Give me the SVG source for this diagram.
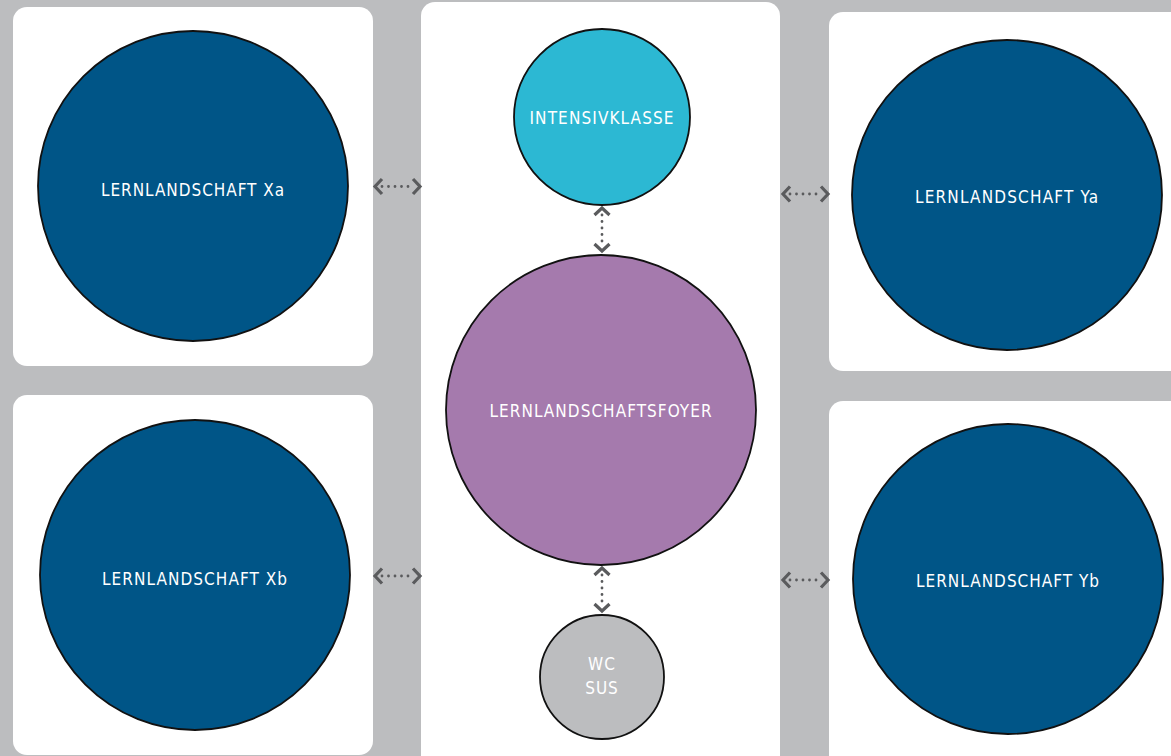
<svg xmlns="http://www.w3.org/2000/svg" width="1171" height="756" viewBox="0 0 1171 756">
<defs>
<style>
.panel{fill:#ffffff}
.c{stroke:#111111;stroke-width:1.8}
.blue{fill:#005587}
.cyan{fill:#2cb8d3}
.purple{fill:#a57aad}
.grey{fill:#bcbdbf}
.t{font-family:"DejaVu Sans Condensed","Liberation Sans Narrow",Roboto,sans-serif;font-size:17px;fill:#ffffff;text-anchor:middle;letter-spacing:1px}
.chev{fill:none;stroke:#5a5b5d;stroke-width:3.2;stroke-linecap:butt;stroke-linejoin:miter}
.dots{fill:none;stroke:#5a5b5d;stroke-width:2.8;stroke-linecap:round;stroke-dasharray:0 6.5}
</style>
</defs>
<rect x="0" y="0" width="1171" height="756" fill="#bcbdbf"/>
<g id="panels">
<rect class="panel" x="13" y="7" width="360" height="359" rx="14"/>
<rect class="panel" x="13" y="395" width="360" height="360" rx="14"/>
<rect class="panel" x="421" y="2" width="359" height="770" rx="14"/>
<rect class="panel" x="829" y="12" width="360" height="359" rx="14"/>
<rect class="panel" x="829" y="401" width="360" height="370" rx="14"/>
</g>
<g id="connectors">
<g id="conn-xa">
<path class="dots" d="M382,186.5 L413,186.5"/>
<path class="chev" d="M382,179 L375,186.5 L382,194"/>
<path class="chev" d="M413,179 L420,186.5 L413,194"/>
</g>
<g id="conn-xb">
<path class="dots" d="M382,576 L413,576"/>
<path class="chev" d="M382,568.5 L375,576 L382,583.5"/>
<path class="chev" d="M413,568.5 L420,576 L413,583.5"/>
</g>
<g id="conn-ya">
<path class="dots" d="M790,194 L821,194"/>
<path class="chev" d="M790,186.5 L783,194 L790,201.5"/>
<path class="chev" d="M821,186.5 L828,194 L821,201.5"/>
</g>
<g id="conn-yb">
<path class="dots" d="M790,580 L821,580"/>
<path class="chev" d="M790,572.5 L783,580 L790,587.5"/>
<path class="chev" d="M821,572.5 L828,580 L821,587.5"/>
</g>
<g id="conn-ik">
<path class="dots" d="M602,215 L602,245"/>
<path class="chev" d="M594.5,215 L602,208 L609.5,215"/>
<path class="chev" d="M594.5,244 L602,251 L609.5,244"/>
</g>
<g id="conn-wc">
<path class="dots" d="M602,575 L602,605"/>
<path class="chev" d="M594.5,575 L602,568 L609.5,575"/>
<path class="chev" d="M594.5,604 L602,611 L609.5,604"/>
</g>
</g>
<g id="node-xa">
<circle class="c blue" cx="193" cy="186" r="155"/>
<text class="t" x="193" y="196" textLength="184" lengthAdjust="spacing">LERNLANDSCHAFT Xa</text>
</g>
<g id="node-xb">
<circle class="c blue" cx="195" cy="575" r="155"/>
<text class="t" x="195" y="585" textLength="186" lengthAdjust="spacing">LERNLANDSCHAFT Xb</text>
</g>
<g id="node-ya">
<circle class="c blue" cx="1007" cy="195" r="155"/>
<text class="t" x="1007" y="203" textLength="184" lengthAdjust="spacing">LERNLANDSCHAFT Ya</text>
</g>
<g id="node-yb">
<circle class="c blue" cx="1008" cy="579" r="155"/>
<text class="t" x="1008" y="587" textLength="184" lengthAdjust="spacing">LERNLANDSCHAFT Yb</text>
</g>
<g id="node-intensivklasse">
<circle class="c cyan" cx="602" cy="117" r="88"/>
<text class="t" x="602" y="124" textLength="145" lengthAdjust="spacing">INTENSIVKLASSE</text>
</g>
<g id="node-foyer">
<circle class="c purple" cx="601" cy="410" r="155"/>
<text class="t" x="601" y="417" textLength="223" lengthAdjust="spacing">LERNLANDSCHAFTSFOYER</text>
</g>
<g id="node-wc">
<circle class="c grey" cx="602" cy="677" r="62"/>
<text class="t" x="602" y="670">WC</text>
<text class="t" x="602" y="694">SUS</text>
</g>
</svg>
